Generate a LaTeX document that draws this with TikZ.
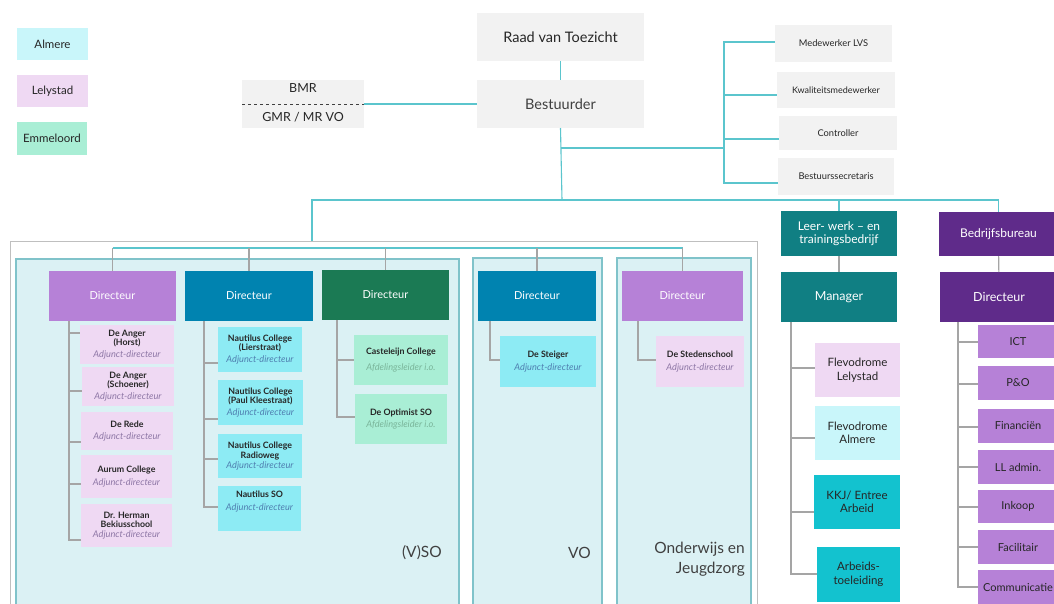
\documentclass[tikz,border=0pt]{standalone}
\usepackage{fontspec}
\setmainfont{Lato}
\usetikzlibrary{calc}
\definecolor{gbox}{HTML}{F2F2F2}
\definecolor{cline}{HTML}{5BC5CD}
\definecolor{gline}{HTML}{A5A5A5}
\definecolor{panelfill}{HTML}{DBF1F4}
\definecolor{paneldraw}{HTML}{80C3CA}
\definecolor{outerdraw}{HTML}{BFBFBF}
\definecolor{purp}{HTML}{B681D7}
\definecolor{blu}{HTML}{0083B0}
\definecolor{grn}{HTML}{1B7A54}
\definecolor{tea}{HTML}{107F83}
\definecolor{dpurp}{HTML}{5F2B8A}
\definecolor{lely}{HTML}{EFD9F3}
\definecolor{almere}{HTML}{C9F6FA}
\definecolor{emmel}{HTML}{A9EED5}
\definecolor{cyankid}{HTML}{8DEBF4}
\definecolor{kkj}{HTML}{13C2CF}
\definecolor{subL}{HTML}{8E77A6}
\definecolor{subA}{HTML}{4F7FB0}
\definecolor{subE}{HTML}{7AB59A}
\definecolor{txt}{HTML}{262626}
\definecolor{txtg}{HTML}{404040}
\newcommand\mybox[7]{\node[#6, minimum width={#4-#2}, minimum height={#5-#3}] (#1) at ({(#2+#4)/2},{(#3+#5)/2}) {#7};}
\newcommand\fs[1]{\fontsize{#1}{#1}\selectfont}
\newcommand\sub[2]{\textcolor{#1}{\fontsize{9.2}{10}\selectfont\mdseries\itshape #2}}
\begin{document}
\begin{tikzpicture}[x=1pt,y=-1pt,
  bx/.style={inner sep=0pt, outer sep=0pt, align=center},
  grey/.style={bx, fill=gbox, text=txt},
  panel/.style={bx, fill=panelfill, draw=paneldraw, line width=1.3pt},
  dir/.style={bx, text=white, font=\fontsize{11}{13}\selectfont},
  kid/.style={bx, text=txt, font=\fontsize{8.8}{9.6}\selectfont\bfseries},
  big/.style={bx, text=txt, font=\fontsize{11.5}{13.5}\selectfont},
  cl/.style={draw=cline, line width=1.1pt},
  gl/.style={draw=gline, line width=1.1pt},
  lab/.style={text=txtg, font=\fontsize{15.5}{20}\selectfont, inner sep=0pt}
]
\useasboundingbox (0,0) rectangle (1054,603);
\fill[white] (0,0) rectangle (1054,603);

% legend
\mybox{lgA}{17}{28}{88}{60}{bx, fill=almere, text=txt, font=\fs{11.5}}{Almere}
\mybox{lgL}{17}{75}{88}{107}{bx, fill=lely, text=txt, font=\fs{11.5}}{Lelystad}
\mybox{lgE}{17}{122}{87}{155}{bx, fill=emmel, text=txt, font=\fs{11.5}}{Emmeloord}

% top
\mybox{rvt}{477}{13}{644}{61}{grey, font=\fs{14.5}}{Raad van Toezicht}
\mybox{best}{477}{80}{644}{128}{grey, text=txtg, font=\fs{14.5}}{Bestuurder}
\mybox{bmr}{242}{80}{364}{128}{grey}{}
\node[text=txt, font=\fs{12.5}] (bmrt) at (303,88) {BMR};
\node[text=txt, font=\fs{12.5}] (gmrt) at (303,117) {GMR / MR VO};
\draw[dashed, line width=0.8pt, txtg] (bmr.west) -- (bmr.east);

% staff
\mybox{s1}{775}{25}{892}{62}{grey, font=\fs{9.3}}{Medewerker LVS}
\mybox{s2}{777}{72}{895}{108}{grey, font=\fs{9}}{Kwaliteitsmedewerker}
\mybox{s3}{779}{116}{897}{150}{grey, font=\fs{9.3}}{Controller}
\mybox{s4}{778}{158}{894}{195}{grey, font=\fs{9.3}}{Bestuurssecretaris}

% outer box and panels
\mybox{outer}{10}{241}{757}{630}{bx, draw=outerdraw, line width=1pt}{}
\mybox{pV}{16}{259}{459}{630}{panel}{}
\mybox{pVO}{473}{258}{602}{630}{panel}{}
\mybox{pOJ}{617}{258}{751}{630}{panel}{}
\node[lab, anchor=east] (lV) at (442,553) {(V)SO};
\node[lab, anchor=east] (lVO) at (591,553) {VO};
\node[lab, anchor=north east, align=right] (lOJ) at (745,542) {Onderwijs en\\Jeugdzorg};

% directeuren
\mybox{d1}{49}{271}{176}{321}{dir, fill=purp}{Directeur}
\mybox{d2}{185}{271}{313}{321}{dir, fill=blu}{Directeur}
\mybox{d3}{322}{270}{449}{320}{dir, fill=grn}{Directeur}
\mybox{dvo}{478}{271}{596}{321}{dir, fill=blu}{Directeur}
\mybox{doj}{622}{271}{743}{321}{dir, fill=purp}{Directeur}

% column 1
\mybox{a1}{80}{325}{174}{364}{kid, fill=lely}{De Anger\\(Horst)\\[2pt]\sub{subL}{Adjunct-directeur}}
\mybox{a2}{82}{367}{174}{406}{kid, fill=lely}{De Anger\\(Schoener)\\[2pt]\sub{subL}{Adjunct-directeur}}
\mybox{a3}{81}{412}{173}{450}{kid, fill=lely}{De Rede\\[3pt]\sub{subL}{Adjunct-directeur}}
\mybox{a4}{81}{455}{172}{498}{kid, fill=lely}{Aurum College\\[3pt]\sub{subL}{Adjunct-directeur}}
\mybox{a5}{81}{504}{172}{547}{kid, fill=lely}{Dr. Herman\\Bekiusschool\\\sub{subL}{Adjunct-directeur}}

% column 2
\mybox{b1}{218}{327}{302}{372}{kid, fill=cyankid}{Nautilus College\\(Lierstraat)\\[2pt]\sub{subA}{Adjunct-directeur}}
\mybox{b2}{218}{380}{303}{425}{kid, fill=cyankid}{Nautilus College\\(Paul Kleestraat)\\[2pt]\sub{subA}{Adjunct-directeur}}
\mybox{b3}{218}{434}{302}{478}{kid, fill=cyankid}{Nautilus College\\Radioweg\\\sub{subA}{Adjunct-directeur}}
\mybox{b4}{218}{486}{301}{531}{kid, fill=cyankid}{Nautilus SO\\[3pt]\sub{subA}{Adjunct-directeur}\\[6pt]}

% column 3
\mybox{c1}{354}{335}{448}{385}{kid, fill=emmel}{Casteleijn College\\[7pt]\sub{subE}{Afdelingsleider i.o.}}
\mybox{c2}{355}{394}{447}{444}{kid, fill=emmel}{De Optimist SO\\[3pt]\sub{subE}{Afdelingsleider i.o.}}

% VO and OJ
\mybox{e1}{500}{336}{596}{387}{kid, fill=cyankid}{De Steiger\\[3pt]\sub{subA}{Adjunct-directeur}}
\mybox{f1}{656}{336}{744}{387}{kid, fill=lely}{De Stedenschool\\[3pt]\sub{subL}{Adjunct-directeur}}

% right side
\mybox{leer}{781}{211}{897}{256}{dir, fill=tea, font=\fontsize{12}{13.5}\selectfont}{Leer- werk -- en\\trainingsbedrijf}
\mybox{bbu}{939}{212}{1058}{256}{dir, fill=dpurp, font=\fs{12}}{Bedrijfsbureau}
\mybox{man}{781}{272}{897}{322}{dir, fill=tea, font=\fs{12.5}}{Manager}
\mybox{dbb}{940}{272}{1058}{322}{dir, fill=dpurp, font=\fs{12.5}}{Directeur}

\mybox{g1}{815}{343}{900}{397}{big, fill=lely}{Flevodrome\\Lelystad}
\mybox{g2}{815}{406}{900}{460}{big, fill=almere}{Flevodrome\\Almere}
\mybox{g3}{814}{475}{900}{529}{big, fill=kkj}{KKJ/ Entree\\Arbeid}
\mybox{g4}{817}{547}{900}{602}{big, fill=kkj}{Arbeids-\\toeleiding}

\mybox{h1}{978}{325}{1058}{358}{big, fill=purp, font=\fs{11}}{ICT}
\mybox{h2}{978}{366}{1058}{400}{big, fill=purp, font=\fs{11}}{P\&O}
\mybox{h3}{978}{409}{1058}{443}{big, fill=purp, font=\fs{11}}{Financiën}
\mybox{h4}{978}{450}{1058}{484}{big, fill=purp, font=\fs{11}}{LL admin.}
\mybox{h5}{978}{490}{1058}{523}{big, fill=purp, font=\fs{11}}{Inkoop}
\mybox{h6}{978}{530}{1058}{564}{big, fill=purp, font=\fs{11}}{Facilitair}
\mybox{h7}{978}{570}{1058}{606}{big, fill=purp, font=\fs{11}}{Communicatie}

% cyan connectors top
\coordinate (hub) at (562,200);
\coordinate (sp) at (724,148);
\draw[cl] (rvt) -- (best);
\draw[cl] (bmr.east) -- (best.west);
\draw[cl] (best.south) -- (hub);
\draw[cl] (best.south |- sp) -- (sp);
\draw[cl] (sp) |- (s1.west |- 0,42);
\draw[cl] (sp) |- (s2.west |- 0,95);
\draw[cl] (sp) |- (s3.west |- 0,139);
\draw[cl] (sp) |- (s4.west |- 0,183);
\draw[cl] (outer.north -| 312,0) |- (bbu.north |- hub) -- (bbu.north);
\draw[cl] (leer.north) -- (leer.north |- hub);

% inner distribution line
\draw[cl] (d1.north |- 0,248) -- (doj.north |- 0,248);
\foreach \d in {d1,d2,d3,dvo,doj} \draw[gl] (\d.north) -- (\d.north |- 0,248);

% grey trees
\foreach \k/\y in {a1/333,a2/391,a3/442,a4/484,a5/540}
  \draw[gl] (d1.south -| 69,0) |- (\k.west |- 0,\y);
\foreach \k/\y in {b1/363,b2/419,b3/459,b4/507}
  \draw[gl] (d2.south -| 204,0) |- (\k.west |- 0,\y);
\foreach \k/\y in {c1/360,c2/417}
  \draw[gl] (d3.south -| 337,0) |- (\k.west |- 0,\y);
\draw[gl] (dvo.south -| 490,0) |- (e1.west |- 0,360);
\draw[gl] (doj.south -| 638,0) |- (f1.west |- 0,360);
\draw[gl] (leer) -- (man);
\draw[gl] (bbu) -- (dbb);
\foreach \k/\y in {g1/368,g2/438,g3/512,g4/574}
  \draw[gl] (man.south -| 791,0) |- (\k.west |- 0,\y);
\foreach \k/\y in {h1/342,h2/384,h3/427,h4/467,h5/507,h6/547,h7/587}
  \draw[gl] (dbb.south -| 958,0) |- (\k.west |- 0,\y);
\end{tikzpicture}
\end{document}
